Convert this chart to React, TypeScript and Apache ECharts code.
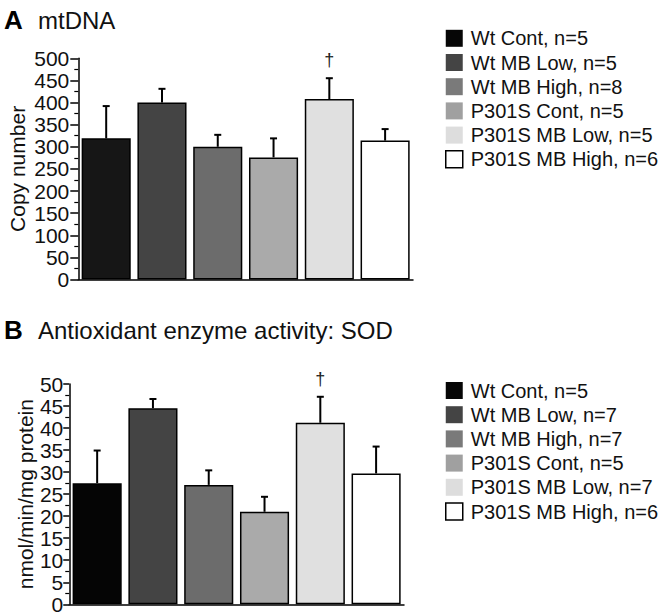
import React, { useEffect, useRef } from "react";
import * as echarts from "echarts";

const categories = ["Wt Cont", "Wt MB Low", "Wt MB High", "P301S Cont", "P301S MB Low", "P301S MB High"];
const legendNamesA = ["Wt Cont, n=5", "Wt MB Low, n=5", "Wt MB High, n=8", "P301S Cont, n=5", "P301S MB Low, n=5", "P301S MB High, n=6"];
const legendNamesB = ["Wt Cont, n=5", "Wt MB Low, n=7", "Wt MB High, n=7", "P301S Cont, n=5", "P301S MB Low, n=7", "P301S MB High, n=6"];
const meanA = [319, 400, 300, 276, 408, 314];
const errA = [73, 31, 27, 43, 47, 26];
const meanB = [27.5, 44.5, 27.1, 21.0, 41.2, 29.7];
const errB = [7.4, 2.1, 3.3, 3.4, 5.9, 6.1];
const daggerA = ["", "", "", "", "†", ""];
const daggerB = ["", "", "", "", "†", ""];
const barColorsA = ["#161616", "#444444", "#6c6c6c", "#aaaaaa", "#e0e0e0", "#ffffff"];
const barColorsB = ["#050505", "#444444", "#6c6c6c", "#aaaaaa", "#e0e0e0", "#ffffff"];
const legendColors = ["#060606", "#444444", "#7a7a7a", "#a0a0a0", "#dddddd", "#ffffff"];

const FONT = "Liberation Sans, Arial, sans-serif";

function barSeries(names: string[], means: number[], colors: string[], axisIdx: number) {
  return names.map((name, i) => ({
    type: "bar",
    name,
    xAxisIndex: axisIdx,
    yAxisIndex: axisIdx,
    barGap: "-100%",
    barCategoryGap: "12%",
    data: means.map((v, j) => (j === i ? v : null)),
    itemStyle: { color: colors[i], borderColor: "#000", borderWidth: 1.5 },
    z: 2,
  }));
}

function errSeries(means: number[], errs: number[], daggers: string[], axisIdx: number) {
  return {
    type: "custom",
    xAxisIndex: axisIdx,
    yAxisIndex: axisIdx,
    z: 5,
    data: means.map((m, i) => [i, m, errs[i]]),
    renderItem: (params: any, api: any) => {
      const i = api.value(0);
      const m = api.value(1);
      const e = api.value(2);
      const base = api.coord([i, m]);
      const top = api.coord([i, m + e]);
      const children: any[] = [
        { type: "line", shape: { x1: base[0], y1: base[1], x2: top[0], y2: top[1] }, style: { stroke: "#000", lineWidth: 2 } },
        { type: "line", shape: { x1: top[0] - 3.5, y1: top[1], x2: top[0] + 3.5, y2: top[1] }, style: { stroke: "#000", lineWidth: 2 } },
      ];
      const d = daggers[params.dataIndex];
      if (d) {
        children.push({
          type: "text",
          style: { text: d, x: top[0], y: top[1] - 18, align: "center", verticalAlign: "middle", fontSize: 18, fill: "#222", fontFamily: FONT },
        });
      }
      return { type: "group", children };
    },
  };
}

function legendData(names: string[]) {
  return names.map((name, i) => ({
    name,
    itemStyle: { color: legendColors[i], borderColor: "#000", borderWidth: i === 5 ? 1.5 : 0 },
  }));
}

function xAxisCfg(gridIndex: number) {
  return {
    type: "category",
    gridIndex,
    data: categories,
    axisLine: { lineStyle: { color: "#000", width: 1.5 } },
    axisTick: { alignWithLabel: true, length: 5, lineStyle: { color: "#000", width: 1.5 } },
    axisLabel: { show: false },
  };
}

function yAxisCfg(gridIndex: number, max: number, interval: number, name: string, nameGap: number, tickLen: number, margin: number) {
  return {
    type: "value",
    gridIndex,
    min: 0,
    max,
    interval,
    name,
    nameLocation: "middle",
    nameGap,
    nameRotate: 90,
    nameTextStyle: { fontSize: 21, color: "#111", fontFamily: FONT },
    axisLine: { show: true, lineStyle: { color: "#000", width: 1.5 } },
    axisTick: { show: true, length: tickLen, lineStyle: { color: "#000", width: 1.5 } },
    minorTick: { show: true, splitNumber: 2, length: 4, lineStyle: { color: "#000", width: 1.2 } },
    splitLine: { show: false },
    axisLabel: { fontSize: 21, color: "#111", fontFamily: FONT, margin },
  };
}

export default function App() {
  const ref = useRef<HTMLDivElement>(null);
  useEffect(() => {
    if (!ref.current) return;
    const chart = echarts.init(ref.current, null, { renderer: "svg" });
    const legendBase = {
      orient: "vertical",
      left: 445,
      padding: 0,
      icon: "rect",
      itemWidth: 17,
      itemHeight: 17,
      itemGap: 4.2,
      selectedMode: false,
      textStyle: { fontSize: 20, lineHeight: 17, color: "#111", fontFamily: FONT, padding: [0, 0, 0, 3] },
    };
    chart.setOption({
      animation: false,
      backgroundColor: "#fff",
      title: [
        { text: "A", left: 4, top: 7, padding: 0, textStyle: { fontSize: 26, fontWeight: "bold", color: "#000", fontFamily: FONT } },
        { text: "mtDNA", left: 38, top: 8, padding: 0, textStyle: { fontSize: 24, fontWeight: "normal", color: "#111", fontFamily: FONT } },
        { text: "B", left: 4, top: 317, padding: 0, textStyle: { fontSize: 26, fontWeight: "bold", color: "#000", fontFamily: FONT } },
        { text: "Antioxidant enzyme activity: SOD", left: 38, top: 318, padding: 0, textStyle: { fontSize: 24, fontWeight: "normal", color: "#111", fontFamily: FONT } },
      ],
      legend: [
        { ...legendBase, top: 28.3, data: legendData(legendNamesA) },
        { ...legendBase, top: 380.5, data: legendData(legendNamesB) },
      ],
      grid: [
        { left: 78.3, right: 259, top: 58.3, bottom: 336.5 },
        { left: 67.7, right: 268, top: 384, bottom: 11.7 },
      ],
      xAxis: [xAxisCfg(0), xAxisCfg(1)],
      yAxis: [
        yAxisCfg(0, 500, 50, "Copy number", 50, 8, 9),
        yAxisCfg(1, 50, 5, "nmol/min/mg protein", 29, 6, 6),
      ],
      series: [
        ...barSeries(legendNamesA, meanA, barColorsA, 0),
        ...barSeries(legendNamesB, meanB, barColorsB, 1),
        errSeries(meanA, errA, daggerA, 0),
        errSeries(meanB, errB, daggerB, 1),
      ],
    });
    return () => chart.dispose();
  }, []);
  return <div ref={ref} style={{ position: "fixed", left: 0, top: 0, width: 672, height: 616 }} />;
}
